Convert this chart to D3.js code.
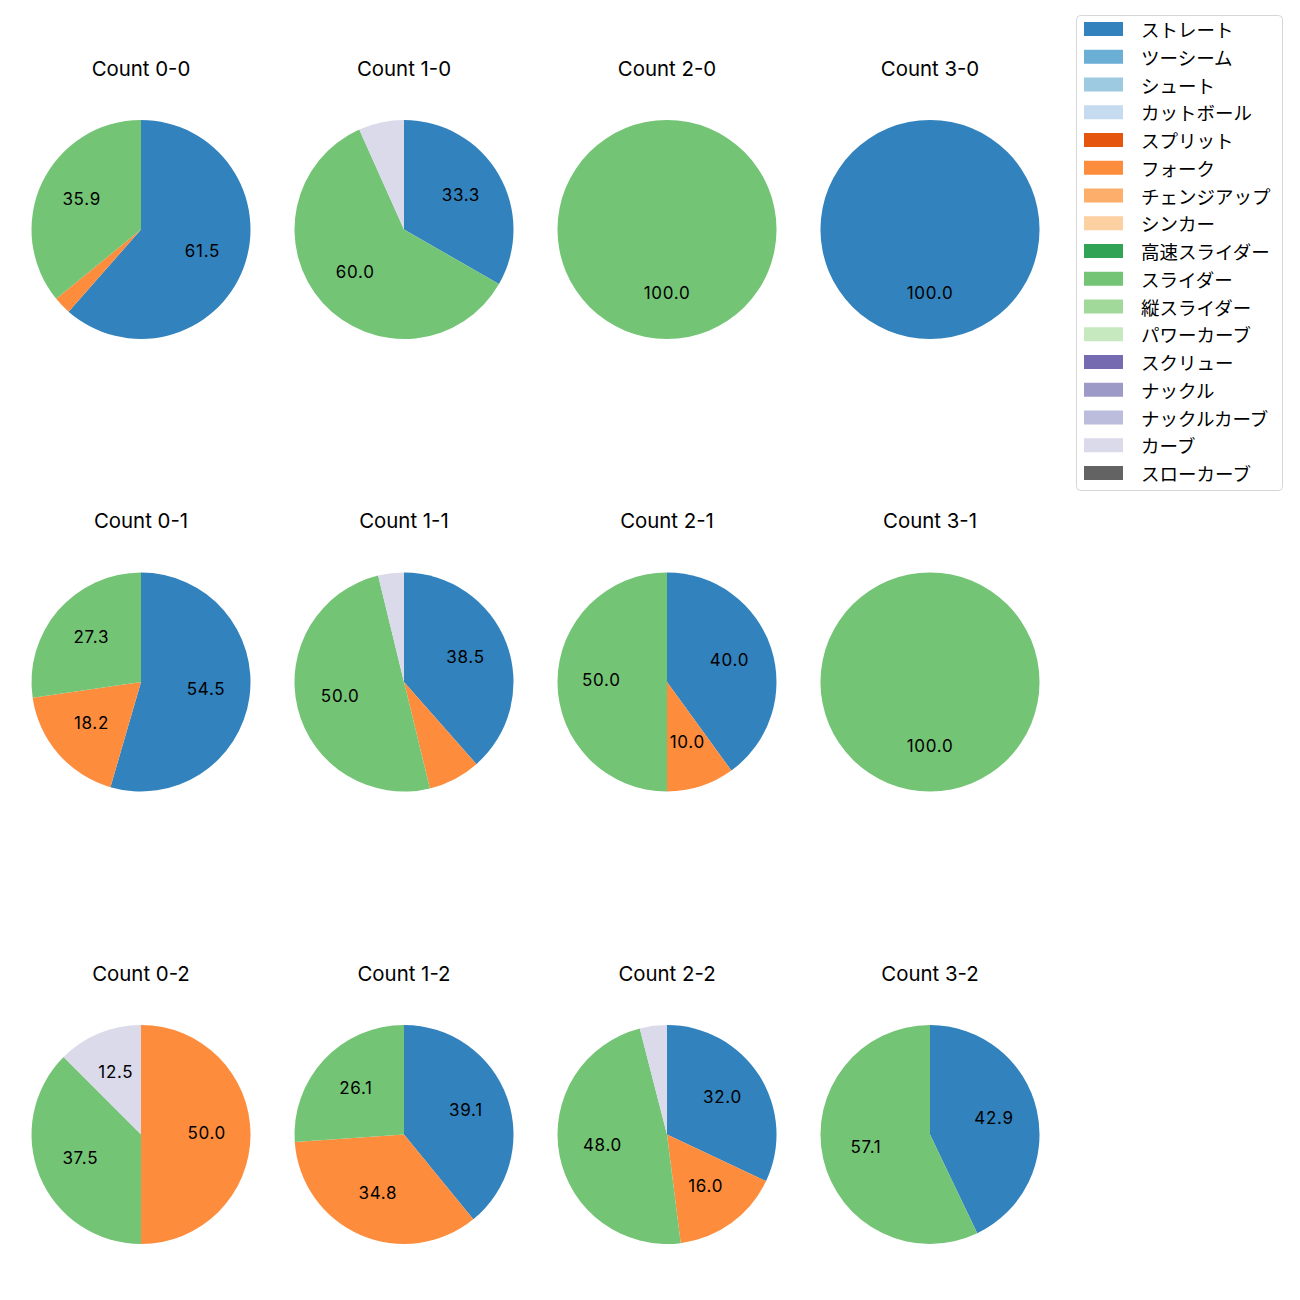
<!DOCTYPE html>
<html>
<head>
<meta charset="utf-8">
<script src="https://cdn.jsdelivr.net/npm/d3@7"></script>
<style>
  html, body { margin: 0; padding: 0; background: #fff; }
  svg { display: block; font-family: Inter, "Noto Sans CJK JP", "Noto Sans", sans-serif; }
  .legtext { font-family: "Noto Sans CJK JP", sans-serif; }
</style>
</head>
<body>
<svg id="chart" width="1300" height="1300"></svg>
<script>
// Pitch types (legend order) and their colours
const pitchTypes = ["ストレート","ツーシーム","シュート","カットボール","スプリット","フォーク","チェンジアップ","シンカー","高速スライダー","スライダー","縦スライダー","パワーカーブ","スクリュー","ナックル","ナックルカーブ","カーブ","スローカーブ"];
const pitchColors = ["#3182bd","#6baed6","#9ecae1","#c6dbef","#e6550d","#fd8d3c","#fdae6b","#fdd0a2","#31a354","#74c476","#a1d99b","#c7e9c0","#756bb1","#9e9ac8","#bcbddc","#dadaeb","#636363"];

// Counts (balls-strikes), row-major: rows = strikes, columns = balls
const countLabels = ["0-0","1-0","2-0","3-0","0-1","1-1","2-1","3-1","0-2","1-2","2-2","3-2"];

// Share (%) of each pitch type per count
const straightPct = [61.5, 33.3,   0, 100, 54.5, 38.5, 40.0,   0,    0, 39.1, 32.0, 42.9];
const forkPct     = [ 2.6,    0,   0,   0, 18.2,  7.7, 10.0,   0, 50.0, 34.8, 16.0,    0];
const sliderPct   = [35.9, 60.0, 100,   0, 27.3, 50.0, 50.0, 100, 37.5, 26.1, 48.0, 57.1];
const curvePct    = [   0,  6.7,   0,   0,    0,  3.8,    0,   0, 12.5,    0,  4.0,    0];

const seriesByType = {
  "ストレート": straightPct,
  "フォーク": forkPct,
  "スライダー": sliderPct,
  "カーブ": curvePct
};

const svg = d3.select("#chart");
const color = d3.scaleOrdinal().domain(pitchTypes).range(pitchColors);

const colX = d3.scalePoint().domain([0,1,2,3]).range([141, 930]);
const rowY = d3.scalePoint().domain([0,1,2]).range([229.5, 1134.5]);
const R = 109.5;

const pie = d3.pie().sort(null).value(d => d.value);
const arc = d3.arc().innerRadius(0).outerRadius(R);
const labelArc = d3.arc().innerRadius(R * 0.6).outerRadius(R * 0.6);

countLabels.forEach((cl, i) => {
  const col = i % 4, row = Math.floor(i / 4);
  const cx = colX(col), cy = rowY(row);
  const data = pitchTypes.map(t => ({type: t, value: seriesByType[t] ? seriesByType[t][i] : 0}))
                         .filter(d => d.value > 0);
  const g = svg.append("g").attr("transform", `translate(${cx},${cy})`);
  const arcs = pie(data);
  g.selectAll("path.slice").data(arcs).join("path")
    .attr("class", "slice")
    .attr("d", arc)
    .attr("fill", d => color(d.data.type));
  g.selectAll("text.pct").data(arcs.filter(d => d.data.value >= 10)).join("text")
    .attr("class", "pct")
    .attr("transform", d => `translate(${labelArc.centroid(d)})`)
    .attr("text-anchor", "middle")
    .attr("dy", 4)
    .attr("font-size", 17)
    .attr("letter-spacing", 0.7)
    .attr("fill", "#000")
    .text(d => d.data.value.toFixed(1));
  svg.append("text")
    .attr("x", cx)
    .attr("y", cy - 153.8)
    .attr("text-anchor", "middle")
    .attr("font-size", 20.4)
    .attr("fill", "#000")
    .text("Count " + cl);
});

// Legend
const legend = svg.append("g");
legend.append("rect")
  .attr("x", 1076.5).attr("y", 15.5)
  .attr("width", 206).attr("height", 475)
  .attr("rx", 4).attr("ry", 4)
  .attr("fill", "#fff").attr("fill-opacity", 0.8)
  .attr("stroke", "#d6d6d6").attr("stroke-width", 1);
const legY = d3.scalePoint().domain(pitchTypes).range([29, 473]);
const items = legend.selectAll("g.item").data(pitchTypes).join("g").attr("class", "item")
  .attr("transform", d => `translate(0,${legY(d)})`);
items.append("rect")
  .attr("x", 1084).attr("y", -7)
  .attr("width", 39).attr("height", 14)
  .attr("fill", d => color(d));
items.append("text")
  .attr("class", "legtext")
  .attr("x", 1141).attr("y", 0)
  .attr("dominant-baseline", "central")
  .attr("font-size", 18.5)
  .attr("fill", "#000")
  .text(d => d);
</script>
</body>
</html>
